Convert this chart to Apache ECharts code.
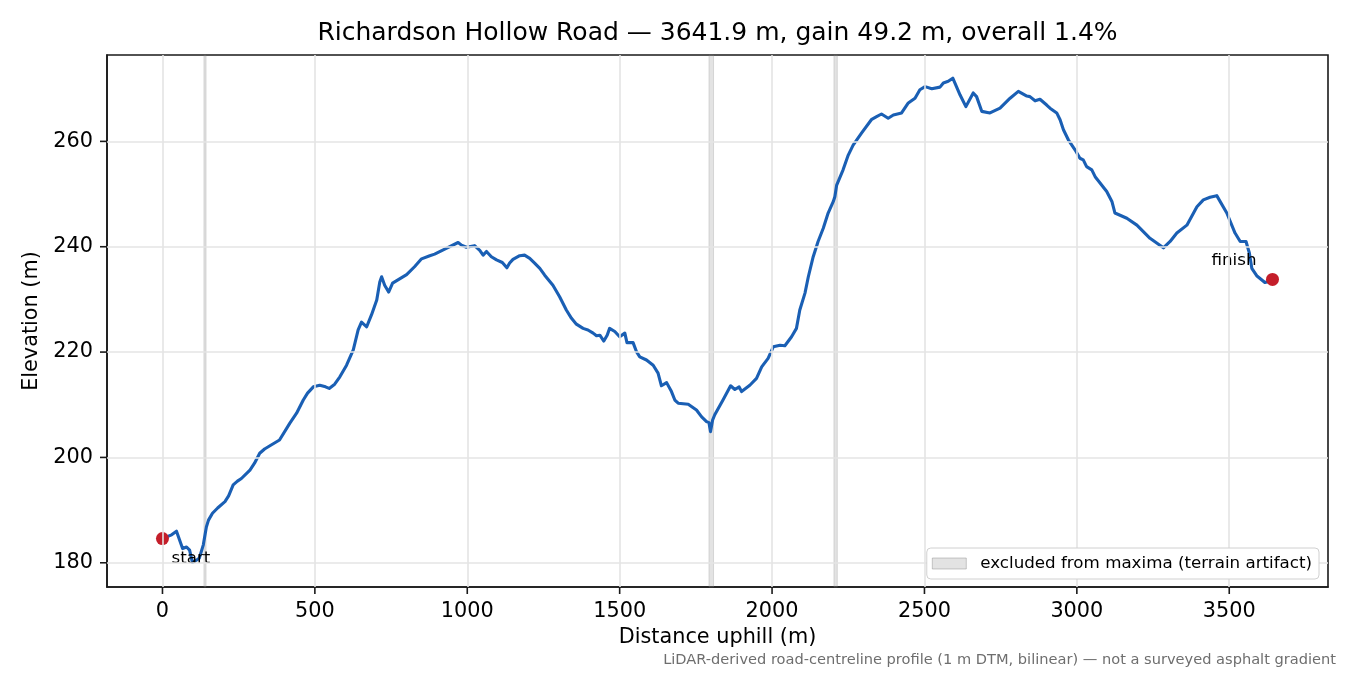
<!DOCTYPE html>
<html>
<head>
<meta charset="utf-8">
<script src="https://cdn.jsdelivr.net/npm/echarts@6/dist/echarts.min.js"></script>
<style>
html,body{margin:0;padding:0;background:#fff;}
#chart{width:1350px;height:675px;}
</style>
</head>
<body>
<div id="chart"></div>
<script>
const distance = [0,30,46,66,79,89,98,112,121,134,
144,151,164,181,205,217,232,246,259,287,
302,319,335,358,384,418,440,462,476,495,
516,535,547,565,582,604,626,642,653,670,
686,703,713,719,729,742,755,778,801,827,
850,877,893,931,970,981,997,1024,1041,1052,
1063,1079,1096,1115,1130,1139,1150,1172,1188,1205,
1221,1238,1254,1281,1303,1325,1342,1358,1380,1396,
1413,1424,1435,1448,1459,1467,1484,1500,1517,1524,
1544,1555,1566,1588,1610,1626,1637,1654,1670,1681,
1692,1725,1752,1769,1785,1793,1798,1805,1812,1839,
1864,1878,1892,1900,1927,1949,1966,1987,2004,2026,
2042,2064,2080,2091,2108,2119,2135,2151,2168,2184,
2201,2206,2212,2233,2250,2266,2294,2327,2343,2359,
2381,2398,2425,2447,2469,2485,2502,2524,2551,2562,
2578,2593,2617,2636,2660,2671,2688,2715,2748,2781,
2808,2836,2846,2863,2879,2901,2912,2934,2945,2956,
2972,2994,3010,3021,3032,3049,3060,3098,3115,3125,
3164,3197,3240,3284,3306,3328,3361,3394,3415,3437,
3459,3492,3519,3536,3555,3566,3574,3590,3617,3630,
3641.9];

const elevation = [184.6,185.3,186.0,182.7,183.0,182.4,180.1,180.5,180.9,183.4,
186.8,188.1,189.4,190.4,191.6,192.7,194.8,195.5,196.0,197.6,
198.9,200.8,201.6,202.4,203.3,206.5,208.4,210.9,212.2,213.4,
213.7,213.4,213.1,213.9,215.3,217.5,220.4,224.2,225.7,224.8,
227.1,229.9,233.3,234.3,232.7,231.4,233.1,233.9,234.7,236.2,
237.7,238.3,238.6,239.7,240.8,240.3,239.9,240.2,239.3,238.4,
239.1,238.1,237.5,237.0,236.0,236.9,237.6,238.3,238.4,237.8,
236.9,235.9,234.6,232.7,230.5,228.0,226.4,225.3,224.5,224.2,
223.6,223.1,223.2,222.1,223.2,224.5,223.9,222.9,223.6,221.8,
221.8,220.1,219.1,218.5,217.5,216.0,213.6,214.2,212.5,210.9,
210.3,210.1,209.0,207.7,206.8,206.6,204.9,207.1,208.1,210.9,
213.6,212.9,213.4,212.5,213.7,215.0,217.2,218.8,221.0,221.3,
221.2,222.9,224.5,228.0,231.2,234.3,238.1,241.0,243.5,246.4,
248.6,249.5,251.7,254.6,257.4,259.3,261.6,264.2,264.7,265.2,
264.4,265.0,265.4,267.3,268.2,269.8,270.4,270.0,270.3,271.1,
271.4,272.0,268.8,266.6,269.2,268.5,265.7,265.4,266.3,268.2,
269.5,268.6,268.5,267.7,268.0,266.9,266.3,265.4,264.1,262.2,
260.3,258.4,256.8,256.5,255.2,254.6,253.3,250.5,248.6,246.4,
245.4,244.1,241.6,239.8,241.0,242.6,244.1,247.6,248.9,249.4,
249.7,246.4,242.6,241.0,241.0,238.8,235.9,234.5,233.2,233.4,
233.8];

const excludedBands = [[136,143],[1793,1808],[2203,2214]];
const endpointNames = ['start','finish'];
const endpointDistance = [0, 3641.9];
const endpointElevation = [184.6, 233.8];
const xTicks = [0,500,1000,1500,2000,2500,3000,3500];
const yTicks = [180,200,220,240,260];
const xRange = [-182, 3824];
const yRange = [175.4, 276.4];

const titleText = 'Richardson Hollow Road — 3641.9 m, gain 49.2 m, overall 1.4%';
const xName = 'Distance uphill (m)';
const yName = 'Elevation (m)';
const legendName = 'excluded from maxima (terrain artifact)';
const footerText = 'LiDAR-derived road-centreline profile (1 m DTM, bilinear) — not a surveyed asphalt gradient';

const FONT = '"DejaVu Sans", sans-serif';
const TICK_COLOR = '#1a1a1a';
const TICK_LEN = 7;
const chart = echarts.init(document.getElementById('chart'));

const gridLineData = xTicks.map(v => ({xAxis: v})).concat(yTicks.map(v => ({yAxis: v})));

const baseGraphics = [
  {type: 'text', x: 717.5, y: 33, style: {text: titleText, align: 'center', verticalAlign: 'middle', font: '25px ' + FONT, fill: '#000'}},
  {type: 'text', x: 1336, y: 660, style: {text: footerText, align: 'right', verticalAlign: 'middle', font: '14.6px ' + FONT, fill: '#6e6e6e'}}
];

const option = {
  animation: false,
  textStyle: {fontFamily: FONT},
  grid: {left: 107, right: 22, top: 55, bottom: 88, show: true, borderColor: TICK_COLOR, borderWidth: 1.6, backgroundColor: 'transparent'},
  legend: {
    right: 31, bottom: 96, z: 20,
    data: [{name: legendName, icon: 'rect', itemStyle: {color: 'rgba(128,128,128,0.22)', borderColor: 'rgba(128,128,128,0.4)', borderWidth: 1}}],
    itemWidth: 34, itemHeight: 11,
    textStyle: {fontFamily: FONT, fontSize: 16.7, color: '#000', padding: [0, 0, 0, 9], textBorderWidth: 0, textShadowBlur: 0},
    backgroundColor: '#ffffff',
    borderColor: '#d0d0d0', borderWidth: 1, borderRadius: 4,
    padding: [7, 7, 7, 5],
    selectedMode: false
  },
  xAxis: {
    type: 'value', min: xRange[0], max: xRange[1],
    name: xName, nameLocation: 'middle', nameGap: 33,
    nameTextStyle: {fontFamily: FONT, fontSize: 20.8, color: '#000'},
    axisLine: {show: true, onZero: false, lineStyle: {color: TICK_COLOR, width: 1.6}},
    axisTick: {show: false},
    axisLabel: {customValues: xTicks, margin: 14, fontFamily: FONT, fontSize: 20.8, color: '#000', formatter: v => String(v)},
    splitLine: {show: false}
  },
  yAxis: {
    type: 'value', min: yRange[0], max: yRange[1],
    name: yName, nameLocation: 'middle', nameGap: 63, nameRotate: 90,
    nameTextStyle: {fontFamily: FONT, fontSize: 20.8, color: '#000'},
    axisLine: {show: true, onZero: false, lineStyle: {color: TICK_COLOR, width: 1.6}},
    axisTick: {show: false},
    axisLabel: {customValues: yTicks, margin: 14, fontFamily: FONT, fontSize: 20.8, color: '#000', formatter: v => String(v)},
    splitLine: {show: false}
  },
  series: [
    {
      name: 'grid', type: 'line', data: [], z: 1, silent: true,
      markLine: {
        silent: true, symbol: ['none', 'none'], animation: false,
        label: {show: false},
        lineStyle: {color: '#e4e4e4', width: 1.6, type: 'solid'},
        emphasis: {disabled: true},
        data: gridLineData
      }
    },
    {
      name: legendName, type: 'line', data: [], z: 2, silent: true,
      itemStyle: {color: 'rgba(128,128,128,0.22)'},
      markArea: {
        silent: true,
        itemStyle: {color: 'rgba(128,128,128,0.22)', borderColor: 'rgba(128,128,128,0.25)', borderWidth: 1},
        emphasis: {disabled: true},
        data: excludedBands.map(b => [{xAxis: b[0]}, {xAxis: b[1]}])
      }
    },
    {
      name: 'profile', type: 'line', z: 3,
      data: distance.map((d, i) => [d, elevation[i]]),
      showSymbol: false, symbol: 'none',
      lineStyle: {color: '#1a5fb4', width: 3.1, join: 'round', cap: 'round'},
      emphasis: {disabled: true}
    },
    {
      name: 'endpoints', type: 'scatter', z: 4,
      symbolSize: 13,
      itemStyle: {color: '#c41e2a', opacity: 1},
      data: endpointNames.map((n, i) => ({
        value: [endpointDistance[i], endpointElevation[i]],
        name: n,
        label: i === 0
          ? {show: true, formatter: n, position: 'inside', align: 'left', verticalAlign: 'middle', offset: [9, 20], fontFamily: FONT, fontSize: 16.7, color: '#000', textBorderWidth: 0}
          : {show: true, formatter: n, position: 'inside', align: 'right', verticalAlign: 'middle', offset: [-16, -19], fontFamily: FONT, fontSize: 16.7, color: '#000', textBorderWidth: 0}
      })),
      emphasis: {disabled: true}
    }
  ],
  graphic: baseGraphics
};
chart.setOption(option);

// Tick marks placed through the chart's own axis scales
const tickGraphics = [];
xTicks.forEach(v => {
  const p = chart.convertToPixel({gridIndex: 0}, [v, yRange[0]]);
  tickGraphics.push({type: 'line', z: 50, silent: true,
    shape: {x1: p[0], y1: p[1], x2: p[0], y2: p[1] + TICK_LEN},
    style: {stroke: TICK_COLOR, lineWidth: 1.6}});
});
yTicks.forEach(v => {
  const p = chart.convertToPixel({gridIndex: 0}, [xRange[0], v]);
  tickGraphics.push({type: 'line', z: 50, silent: true,
    shape: {x1: p[0] - TICK_LEN, y1: p[1], x2: p[0], y2: p[1]},
    style: {stroke: TICK_COLOR, lineWidth: 1.6}});
});
chart.setOption({graphic: baseGraphics.concat(tickGraphics)});
</script>
</body>
</html>
